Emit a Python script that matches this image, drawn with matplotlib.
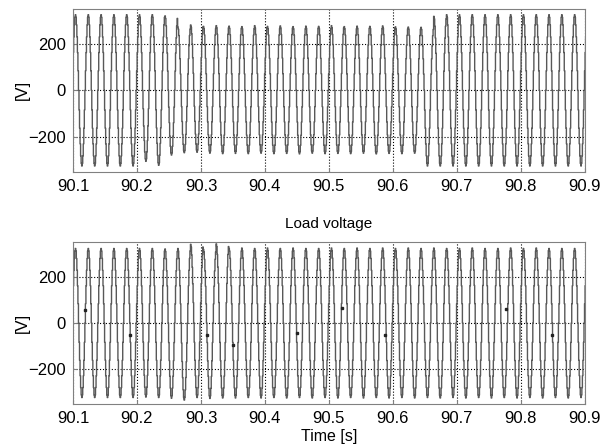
import numpy as np
import matplotlib.pyplot as plt

plt.rcParams['font.family'] = ['Liberation Sans', 'DejaVu Sans']

# one 50 Hz cycle, normalised, starting at the positive peak
shape = [1.0, 0.966, 0.866, 0.707, 0.5, 0.259, 0.0, -0.259, -0.5, -0.707, -0.866, -0.966,
         -1.0, -0.966, -0.866, -0.707, -0.5, -0.259, 0.0, 0.259, 0.5, 0.707, 0.866, 0.966]
t_first_peak = 90.084
period = 0.02

# peak / trough of every cycle (41 cycles), upper plot
top_peaks = [325, 325, 325, 325, 325, 325, 325, 325, 320,
             272, 281, 275, 278, 276, 274, 278, 275, 277, 274, 276,
             275, 278, 274, 276, 275, 277, 273, 272, 271,
             318, 325, 325, 325, 325, 325, 325, 325, 325, 325, 325, 325]
top_troughs = [-325, -325, -325, -325, -325, -325, -305, -322, -278,
               -268, -266, -270, -272, -271, -272, -270, -272, -271, -273, -270,
               -272, -271, -272, -270, -273, -271, -272, -270,
               -325, -325, -325, -325, -325, -325, -325, -325, -325, -325, -325, -325, -325]

# load voltage, lower plot
bot_peaks = [322, 322, 322, 322, 322, 322, 322, 322, 320, 322, 340, 318, 342,
             322, 324, 322, 324, 322, 324, 322, 322, 324, 322, 324, 322, 324,
             322, 324, 322, 324, 322, 322, 324, 322, 322, 324, 322, 324, 322, 322, 322]
bot_troughs = [-322, -322, -322, -322, -322, -322, -320, -322, -325, -333, -322, -326,
               -324, -324, -322, -324, -322, -324, -322, -324, -322, -324, -322, -324,
               -322, -324, -322, -324, -322, -324, -322, -324, -322, -324, -322, -324,
               -322, -324, -322, -324, -322]

# small glitch samples visible on the load voltage
glitch_t = [90.119, 90.189, 90.309, 90.350, 90.450, 90.520, 90.587, 90.777, 90.848]
glitch_v = [58, -53, -53, -96, -45, 63, -53, 62, -53]


def build_wave(peaks, troughs):
    tt, vv = [], []
    n = len(shape)
    for k in range(len(peaks)):
        for i, s in enumerate(shape):
            tt.append(t_first_peak + k * period + i * period / n)
            vv.append(s * peaks[k] if s >= 0 else -s * troughs[k])
    return np.array(tt), np.array(vv)


fig = plt.figure(figsize=(6.08, 4.44), dpi=100)
ax1 = fig.add_axes([0.120, 0.613, 0.842, 0.367])
ax2 = fig.add_axes([0.120, 0.090, 0.842, 0.365])

line_col = '#585858'
for ax, pk, tr in [(ax1, top_peaks, top_troughs), (ax2, bot_peaks, bot_troughs)]:
    t, v = build_wave(pk, tr)
    ax.plot(t, v, color=line_col, linewidth=1.0, drawstyle='steps-mid')
    ax.set_xlim(90.1, 90.9)
    ax.set_ylim(-350, 350)
    ax.set_xticks([90.1, 90.2, 90.3, 90.4, 90.5, 90.6, 90.7, 90.8, 90.9])
    ax.set_yticks([-200, 0, 200])
    ax.grid(True, linestyle=':', color='k', linewidth=0.8)
    for sp in ax.spines.values():
        sp.set_color('#808080')
    ax.tick_params(direction='in', length=3, color='#808080', labelsize=12, pad=5)
    ax.set_ylabel('[V]', fontsize=12, labelpad=-1)

ax2.plot(glitch_t, glitch_v, 's', color='#222222', markersize=2)
ax2.set_title('Load voltage', fontsize=11, pad=10)
ax2.set_xlabel('Time [s]', fontsize=11.5, labelpad=2)

fig.savefig('out.png', dpi=100)
